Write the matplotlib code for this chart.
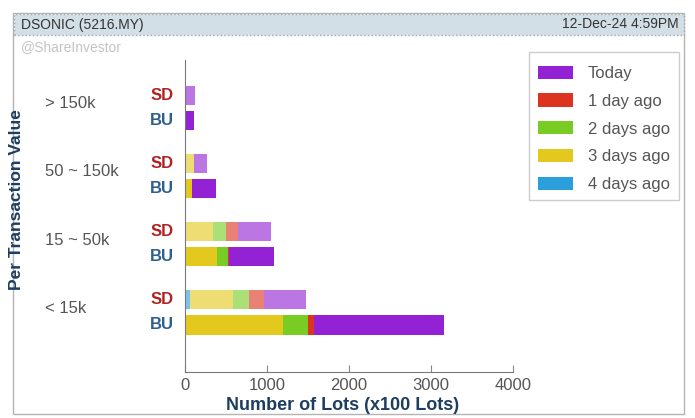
import numpy as np
import matplotlib
matplotlib.use('Agg')
import matplotlib.pyplot as plt
from matplotlib.patches import Rectangle, Patch
from matplotlib.transforms import blended_transform_factory

plt.rcParams['font.family'] = ['Liberation Sans', 'DejaVu Sans']

# categories, top to bottom
categories = ['> 150k', '50 ~ 150k', '15 ~ 50k', '< 15k']
series = ['4 days ago', '3 days ago', '2 days ago', '1 day ago', 'Today']

# SD (sell down) lots per series, per category
sd_4d = [0, 0, 0, 55]
sd_3d = [0, 115, 345, 535]
sd_2d = [0, 0, 155, 195]
sd_1d = [0, 0, 150, 180]
sd_today = [125, 155, 400, 510]

# BU (buy up) lots per series, per category
bu_4d = [0, 0, 0, 0]
bu_3d = [0, 85, 395, 1200]
bu_2d = [0, 0, 130, 305]
bu_1d = [15, 0, 10, 65]
bu_today = [95, 290, 550, 1585]

xticks = [0, 1000, 2000, 3000, 4000]

colors = ['#2b9fdc', '#e3c81e', '#78cc24', '#dc3420', '#9222d4']

W, H = 695, 418
fig = plt.figure(figsize=(W / 100, H / 100), dpi=100)

def fx(p):
    return p / W

def fy(p):
    return 1 - p / H

# outer frame and title bar
fig.patches.append(Rectangle((fx(13), fy(414)), fx(671), (401) / H, transform=fig.transFigure,
                             facecolor='white', edgecolor='#b4b4b4', lw=1, zorder=-10))
fig.patches.append(Rectangle((fx(14), fy(35)), fx(670), 21 / H, transform=fig.transFigure,
                             facecolor='#d2dfe7', edgecolor='#a8a8a8', lw=1, ls=':', zorder=-9))
fig.text(fx(21), fy(24.5), 'DSONIC (5216.MY)', fontsize=10, color='#333333', va='center')
fig.text(fx(679), fy(24.5), '12-Dec-24 4:59PM', fontsize=10, color='#333333', va='center', ha='right')
fig.text(fx(21), fy(47), '@ShareInvestor', fontsize=10, color='#c4c4c4', va='center')

# legend frame
fig.patches.append(Rectangle((fx(529), fy(200)), (679 - 529) / W, 148 / H, transform=fig.transFigure,
                             facecolor='white', edgecolor='#cccccc', lw=1, zorder=-8))

ax = fig.add_axes([fx(185), fy(372), (513 - 185) / W, (372 - 60) / H])
ax.patch.set_alpha(0)

y = np.arange(len(categories))
off = 0.184
h = 0.29

sd = [sd_4d, sd_3d, sd_2d, sd_1d, sd_today]
bu = [bu_4d, bu_3d, bu_2d, bu_1d, bu_today]

left = np.zeros(len(categories))
for vals, c in zip(sd, colors):
    ax.barh(y - off, vals, height=h, left=left, color=c, alpha=0.62, lw=0)
    left += np.array(vals)
left = np.zeros(len(categories))
for vals, c in zip(bu, colors):
    ax.barh(y + off, vals, height=h, left=left, color=c, lw=0)
    left += np.array(vals)

ax.set_xlim(0, 4000)
ax.set_ylim(3.88, -0.706)
ax.set_xticks(xticks)
ax.set_xticklabels([str(t) for t in xticks], fontsize=12, color='#555555')
ax.tick_params(axis='x', direction='in', length=5, color='#888888', pad=4)
ax.set_yticks([])
for s in ['top', 'right']:
    ax.spines[s].set_visible(False)
for s in ['left', 'bottom']:
    ax.spines[s].set_color('#7a7a7a')

tr = blended_transform_factory(ax.transAxes, ax.transData)
for i, cat in enumerate(categories):
    ax.text(-0.427, i - 0.06, cat, transform=tr, fontsize=12, color='#555555', va='center', ha='left')
    ax.text(-0.034, i - off, 'SD', transform=tr, fontsize=12, fontweight='bold', color='#b02323',
            va='center', ha='right')
    ax.text(-0.034, i + off, 'BU', transform=tr, fontsize=12, fontweight='bold', color='#2d5f8f',
            va='center', ha='right')

fig.text(fx(17), fy(200), 'Per Transaction Value', rotation=90, fontsize=12.5, fontweight='bold',
         color='#1d3e60', va='center', ha='center')
fig.text(fx(343), fy(405), 'Number of Lots (x100 Lots)', fontsize=13, fontweight='bold',
         color='#1d3e60', va='center', ha='center')

handles = [Patch(facecolor=c, edgecolor='none') for c in colors][::-1]
leg = fig.legend(handles, series[::-1], loc='upper left', bbox_to_anchor=(fx(538), fy(65.5)),
                 fontsize=12, frameon=False,
                 handlelength=2.1, handleheight=0.84, handletextpad=0.9, labelspacing=0.75,
                 borderpad=0, borderaxespad=0)
for t in leg.get_texts():
    t.set_color('#555555')

fig.savefig('out.png', dpi=100)
